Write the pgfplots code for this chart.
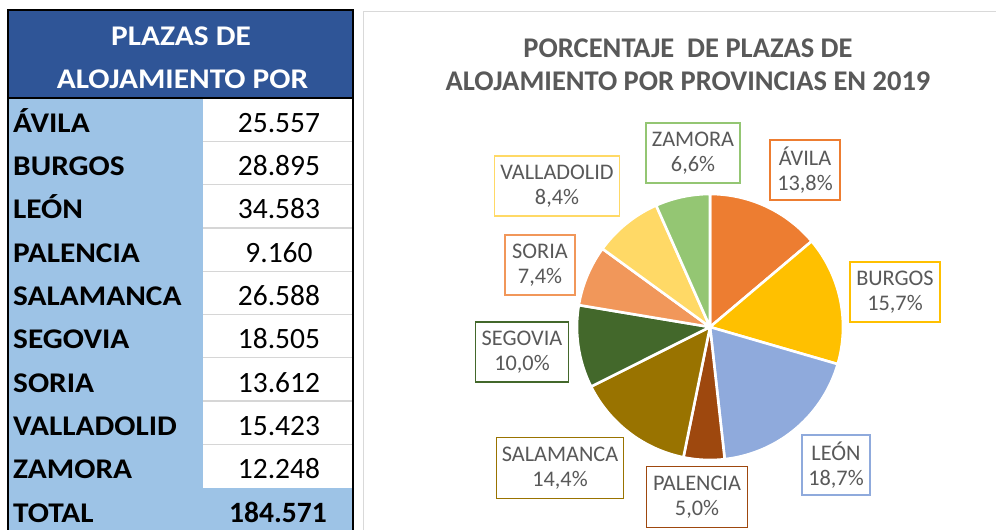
\documentclass[border=0pt]{standalone}
\usepackage{pgfplots}
\pgfplotsset{compat=1.18}
\usepackage{pgfplotstable}
\usepackage{graphicx}
\usepackage{fontspec}
\setmainfont{Carlito}

\definecolor{hdr}{HTML}{2F5597}
\definecolor{lblue}{HTML}{9DC3E6}
\definecolor{tgray}{HTML}{595959}
\definecolor{bordgray}{HTML}{D9D9D9}
\definecolor{rowline}{HTML}{D6D6D6}
\definecolor{sl0}{HTML}{ED7D31}
\definecolor{sl1}{HTML}{FFC000}
\definecolor{sl2}{HTML}{8FAADC}
\definecolor{sl3}{HTML}{9E480E}
\definecolor{sl4}{HTML}{997300}
\definecolor{sl5}{HTML}{43682B}
\definecolor{sl6}{HTML}{F1975A}
\definecolor{sl7}{HTML}{FFD966}
\definecolor{sl8}{HTML}{94C673}

\pgfplotstableread{
prov plazas
ÁVILA 25557
BURGOS 28895
LEÓN 34583
PALENCIA 9160
SALAMANCA 26588
SEGOVIA 18505
SORIA 13612
VALLADOLID 15423
ZAMORA 12248
}\plazas

\begingroup
\pgfkeys{/pgf/fpu=true,/pgf/fpu/output format=fixed}%
\gdef\total{0}%
\pgfplotstableforeachcolumnelement{plazas}\of\plazas\as\v{%
  \pgfmathparse{\total+\v}\xdef\total{\pgfmathresult}}%
\gdef\cum{0}%
\pgfplotstableforeachcolumnelement{plazas}\of\plazas\as\v{%
  \pgfmathparse{90-360*\cum/\total}\expandafter\xdef\csname angB\pgfplotstablerow\endcsname{\pgfmathresult}%
  \pgfmathparse{\cum+\v}\xdef\cum{\pgfmathresult}%
  \pgfmathparse{90-360*\cum/\total}\expandafter\xdef\csname angE\pgfplotstablerow\endcsname{\pgfmathresult}%
}%
\endgroup

\newcommand\hs[1]{\scalebox{1.1}[1]{#1}}
\newcommand\lab[6]{\node[draw=#1, line width=1.4pt, fill=white, minimum width=#4pt, minimum height=#5pt, inner sep=0pt, align=center, text=tgray, font=\fontsize{22.3}{25}\selectfont] at (#2,#3) {#6};}

\begin{document}
\begin{tikzpicture}
\useasboundingbox (0pt,0pt) rectangle (996pt,-530pt);
\fill[white] (0pt,0pt) rectangle (996pt,-530pt);
\begin{scope}[x=1pt,y=-1pt]
  % table
  \fill[hdr] (8,10) rectangle (353,98);
  \fill[lblue] (8,98) rectangle (203,530);
  \fill[lblue] (203,487.7) rectangle (353,530);
  \foreach \i in {1,...,8}{
    \draw[rowline, line width=1.3pt] (203,{98+43.3*\i}) -- (353,{98+43.3*\i});
  }
  \draw[black, line width=2pt] (8,530) -- (8,10) -- (353,10) -- (353,530);
  \draw[black, line width=2pt] (8,98) -- (353,98);
  \node[anchor=base, text=white, font=\fontsize{28.5}{34}\selectfont\bfseries] at (181,45) {\hs{PLAZAS DE}};
  \node[anchor=base, text=white, font=\fontsize{28.5}{34}\selectfont\bfseries] at (182.5,88) {\hs{ALOJAMIENTO POR}};
  \foreach \i in {0,...,8}{
    \pgfplotstablegetelem{\i}{prov}\of\plazas
    \let\nm\pgfplotsretval
    \pgfplotstablegetelem{\i}{plazas}\of\plazas
    \let\vv\pgfplotsretval
    \node[anchor=base west, inner sep=0pt, font=\fontsize{28.5}{34}\selectfont\bfseries] at (13,{98+43.3*(\i+1)-9}) {\hs{\nm}};
    \node[anchor=base, inner sep=0pt, font=\fontsize{29.5}{34}\selectfont] at (279,{98+43.3*(\i+1)-9}) {\pgfmathprintnumber[assume math mode=true,fixed,precision=0,1000 sep={.}]{\vv}};
  }
  \node[anchor=base west, inner sep=0pt, font=\fontsize{28.5}{34}\selectfont\bfseries] at (13,{98+43.3*10-9}) {\hs{TOTAL}};
  \node[anchor=base, inner sep=0pt, font=\fontsize{29.5}{34}\selectfont\bfseries] at (278,{98+43.3*10-9}) {\pgfmathprintnumber[assume math mode=true,fixed,precision=0,1000 sep={.}]{\total}};
  % chart area border
  \draw[bordgray, line width=1.5pt] (363.5,531) -- (363.5,11.5) -- (997,11.5);
  % title
  \node[anchor=base, text=tgray, font=\fontsize{28.5}{34}\selectfont\bfseries] at (688,57) {PORCENTAJE\ \ DE PLAZAS DE};
  \node[anchor=base, text=tgray, font=\fontsize{28.5}{34}\selectfont\bfseries] at (688,90) {ALOJAMIENTO POR PROVINCIAS EN 2019};
\end{scope}

\begin{axis}[
  at={(710pt,-327pt)}, anchor=center,
  width=266pt, height=266pt, scale only axis,
  xmin=-1, xmax=1, ymin=-1, ymax=1,
  hide axis, clip=false, no markers,
]
\pgfplotsinvokeforeach{0,...,8}{%
  \edef\da{\csname angE#1\endcsname}%
  \edef\db{\csname angB#1\endcsname}%
  \addplot[fill=sl#1, draw=white, line width=2.6pt, line join=round, domain=\da:\db, samples=90, variable=\t] ({cos(\t)},{sin(\t)}) -- (0,0) -- cycle;
}
\end{axis}

\begin{scope}[x=1pt,y=-1pt]
  \lab{sl8}{693}{153}{94}{60}{ZAMORA\\6,6\%}
  \lab{sl0}{805}{170}{70}{60}{ÁVILA\\13,8\%}
  \lab{sl1}{895}{292}{90}{60}{BURGOS\\15,7\%}
  \lab{sl2}{836}{465}{68}{60}{LEÓN\\18,7\%}
  \lab{sl3}{697}{497}{101}{61}{PALENCIA\\5,0\%}
  \lab{sl4}{560}{468}{127}{61}{SALAMANCA\\14,4\%}
  \lab{sl5}{522}{352}{93}{60}{SEGOVIA\\10,0\%}
  \lab{sl6}{540}{265}{70}{60}{SORIA\\7,4\%}
  \lab{sl7}{557}{186}{125}{60}{VALLADOLID\\8,4\%}
\end{scope}
\end{tikzpicture}
\end{document}
